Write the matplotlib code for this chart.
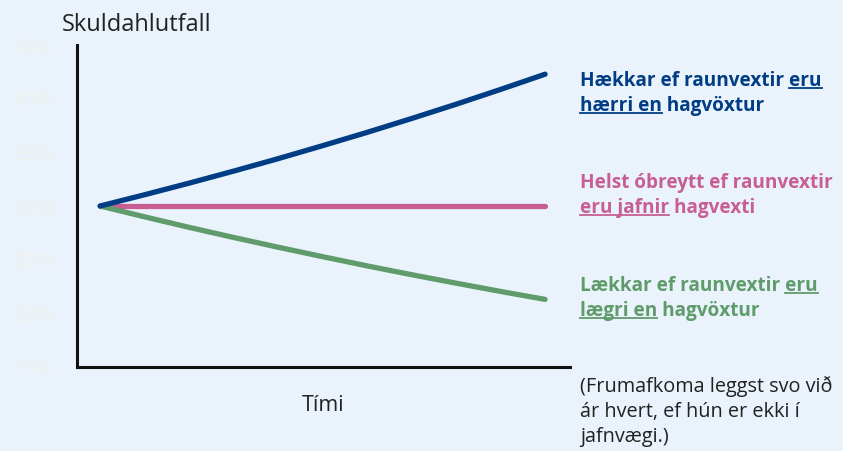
import matplotlib.pyplot as plt
from matplotlib.lines import Line2D

bg = '#EAF3FB'
c_blue = '#003D85'
c_pink = '#C85F92'
c_green = '#5F9B6B'
c_tick = '#F1F0EC'

# tími (ár) og skuldahlutfall (%)
timi = [0, 1, 2, 3, 4, 5, 6, 7, 8, 9, 10]
haekkar = [30.0, 31.05, 32.13, 33.25, 34.41, 35.62, 36.86, 38.15, 39.48, 40.86, 42.28]
obreytt = [30.0, 30.0, 30.0, 30.0, 30.0, 30.0, 30.0, 30.0, 30.0, 30.0, 30.0]
laekkar = [30.0, 28.99, 28.01, 27.07, 26.16, 25.28, 24.42, 23.60, 22.81, 22.04, 21.30]
yticks = [15, 20, 25, 30, 35, 40, 45]

plt.rcParams['font.family'] = ['Open Sans', 'DejaVu Sans']

W, H = 843, 451
fig = plt.figure(figsize=(W / 100, H / 100), dpi=100, facecolor=bg)
ax = fig.add_axes([77 / W, (H - 367) / H, (570 - 77) / W, (367 - 45) / H])
ax.set_facecolor(bg)

ax.plot(timi, obreytt, color=c_pink, lw=3.8, solid_capstyle='round', zorder=3)
ax.plot(timi, laekkar, color=c_green, lw=3.8, solid_capstyle='round', zorder=3)
ax.plot(timi, haekkar, color=c_blue, lw=3.8, solid_capstyle='round', zorder=4)

ax.set_xlim(-0.52, 10.56)
ax.set_ylim(15, 45)
ax.set_yticks(yticks)
ax.set_yticklabels([f'{v}%' for v in yticks], color=c_tick, fontsize=14.5)
ax.set_xticks([])
ax.tick_params(axis='y', length=0, pad=17)
for s in ['top', 'right']:
    ax.spines[s].set_visible(False)
for s in ['left', 'bottom']:
    ax.spines[s].set_linewidth(2.2)
    ax.spines[s].set_color('#111111')

ax.set_xlabel('Tími', fontsize=15.5, color='#222222', labelpad=20)
fig.text(62 / W, 1 - 31 / H, 'Skuldahlutfall', fontsize=17, color='#222222',
         ha='left', va='baseline')

fig.canvas.draw()
renderer = fig.canvas.get_renderer()


def text_width(s, **kw):
    t = fig.text(0, 0, s, **kw)
    w = t.get_window_extent(renderer).width
    t.remove()
    return w


def label(x, y, line, under, color, where):
    # line: full text, under: underlined part, where: 'end' or 'start'
    kw = dict(fontsize=13.7, fontweight='bold', color=color)
    fig.text(x / W, 1 - y / H, line, ha='left', va='baseline', **kw)
    if not under:
        return
    full = text_width(line, **kw)
    uw = text_width(under, **kw)
    if where == 'end':
        x0, x1 = x + full - uw, x + full
    else:
        x0, x1 = x, x + uw
    yy = H - y - 2
    fig.add_artist(Line2D([x0, x1], [yy, yy], transform=None, color=color, lw=1.3))


label(580, 86, 'Hækkar ef raunvextir eru', 'eru', c_blue, 'end')
label(580, 111, 'hærri en hagvöxtur', 'hærri en', c_blue, 'start')
label(580, 188, 'Helst óbreytt ef raunvextir', '', c_pink, 'start')
label(580, 213, 'eru jafnir hagvexti', 'eru jafnir', c_pink, 'start')
label(580, 291, 'Lækkar ef raunvextir eru', 'eru', c_green, 'end')
label(580, 316, 'lægri en hagvöxtur', 'lægri en', c_green, 'start')

note = ['(Frumafkoma leggst svo við', 'ár hvert, ef hún er ekki í', 'jafnvægi.)']
for i, s in enumerate(note):
    fig.text(580 / W, 1 - (392 + 25 * i) / H, s, fontsize=14.3, color='#222222',
             ha='left', va='baseline')

fig.savefig('out.png', dpi=100, facecolor=bg)
